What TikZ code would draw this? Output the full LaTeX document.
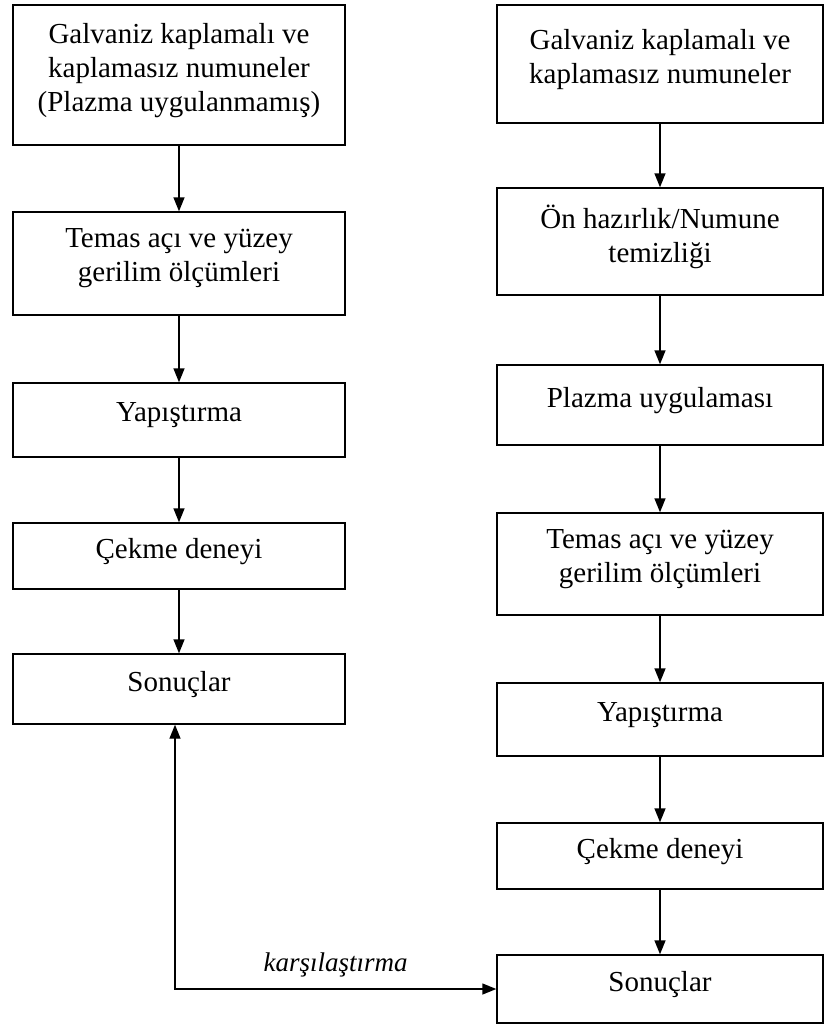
\documentclass[tikz,border=0pt]{standalone}
\usepackage{fontspec}
\setmainfont{Liberation Serif}
\usetikzlibrary{arrows.meta}

\begin{document}
\begin{tikzpicture}[x=1pt,y=-1pt,>={Triangle[length=14pt,width=11pt]},
    kutu/.style={draw, line width=1.4pt, align=center, inner sep=0pt,
      font=\fontsize{29}{34}\selectfont, text depth=16pt},
    ok/.style={->, line width=1.4pt}]
    \useasboundingbox (0,0) rectangle (824,1025);

    % Sol sütun (plazmasız)
    \node[kutu, minimum width=332pt, minimum height=140pt] (L1) at (179,75)
      {Galvaniz kaplamalı ve\\kaplamasız numuneler\\(Plazma uygulanmamış)};
    \node[kutu, minimum width=332pt, minimum height=103pt] (L2) at (179,263.5)
      {Temas açı ve yüzey\\gerilim ölçümleri};
    \node[kutu, minimum width=332pt, minimum height=74pt] (L3) at (179,420) {Yapıştırma};
    \node[kutu, minimum width=332pt, minimum height=66pt] (L4) at (179,556) {Çekme deneyi};
    \node[kutu, minimum width=332pt, minimum height=70pt] (L5) at (179,689) {Sonuçlar};

    % Sağ sütun (plazmalı)
    \node[kutu, minimum width=326pt, minimum height=118pt] (R1) at (660,64)
      {Galvaniz kaplamalı ve\\kaplamasız numuneler};
    \node[kutu, minimum width=326pt, minimum height=107pt] (R2) at (660,241.5)
      {Ön hazırlık/Numune\\temizliği};
    \node[kutu, minimum width=326pt, minimum height=80pt] (R3) at (660,405) {Plazma uygulaması};
    \node[kutu, minimum width=326pt, minimum height=102pt] (R4) at (660,564)
      {Temas açı ve yüzey\\gerilim ölçümleri};
    \node[kutu, minimum width=326pt, minimum height=73pt] (R5) at (660,719.5) {Yapıştırma};
    \node[kutu, minimum width=326pt, minimum height=66pt] (R6) at (660,856) {Çekme deneyi};
    \node[kutu, minimum width=326pt, minimum height=68pt] (R7) at (660,989) {Sonuçlar};

    % Oklar
    \draw[ok] (L1) -- (L2);
    \draw[ok] (L2) -- (L3);
    \draw[ok] (L3) -- (L4);
    \draw[ok] (L4) -- (L5);

    \draw[ok] (R1) -- (R2);
    \draw[ok] (R2) -- (R3);
    \draw[ok] (R3) -- (R4);
    \draw[ok] (R4) -- (R5);
    \draw[ok] (R5) -- (R6);
    \draw[ok] (R6) -- (R7);

    % Karşılaştırma
    \draw[<->, line width=1.4pt] ([xshift=-4pt]L5.south) |- (R7.west)
      node[pos=0.75, above=8pt, font=\fontsize{27}{30}\selectfont\itshape] (kars) {karşılaştırma};

\end{tikzpicture}
\end{document}
